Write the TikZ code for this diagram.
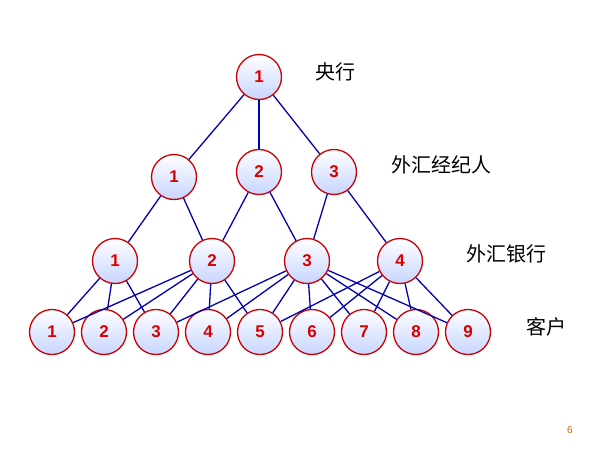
\documentclass[tikz,border=0pt]{standalone}
\usepackage{fontspec}
\setmainfont{Liberation Sans}
\newfontfamily\cjk{Noto Sans CJK SC}
\begin{document}
\begin{tikzpicture}[x=1pt,y=-1pt,
 nd/.style={circle,draw=red!80!black,line width=1.3pt,minimum size=45pt,inner sep=0pt,top color=white,bottom color=cyan!25!blue!22,text=red!85!black,font=\fontsize{17}{17}\selectfont\bfseries},
 ln/.style={draw=blue!70!black,line width=1.3pt},
 lab/.style={font=\cjk\fontsize{20}{20}\selectfont,anchor=west}]
\useasboundingbox (0,0) rectangle (600,450);
\node[nd] (a) at (259,77) {1};
\node[nd] (k1) at (174,177) {1};
\node[nd] (k2) at (259,172) {2};
\node[nd] (k3) at (334,172) {3};
\foreach \i/\x in {1/115,2/212,3/307,4/400} \node[nd] (b\i) at (\x,261) {\i};
\foreach \i in {1,...,9} \node[nd] (c\i) at (52*\i,332) {\i};
\foreach \s/\t in {a/k1,a/k2,a/k3,k1/b1,k1/b2,k2/b2,k2/b3,k3/b3,k3/b4,
 b1/c1,b1/c2,b1/c3,b2/c1,b2/c2,b2/c3,b2/c4,b2/c5,
 b3/c3,b3/c4,b3/c5,b3/c6,b3/c7,b3/c8,b3/c9,
 b4/c5,b4/c6,b4/c7,b4/c8,b4/c9}
 \draw[ln] (\s) -- (\t);
\node[lab] (l1) at (312,72) {央行};
\node[lab] (l2) at (388,165) {外汇经纪人};
\node[lab] (l3) at (463,254) {外汇银行};
\node[lab] (l4) at (523,327) {客户};
\node[text=orange!80!black,font=\fontsize{10}{10}\selectfont] (pg) at (570,430) {6};
\end{tikzpicture}
\end{document}
